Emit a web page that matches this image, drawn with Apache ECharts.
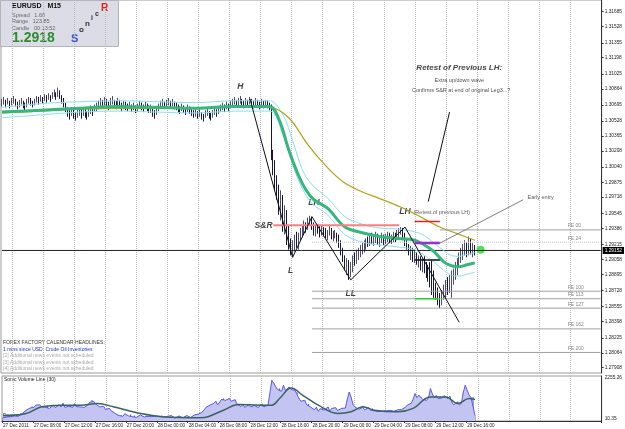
<!DOCTYPE html>
<html>
<head>
<meta charset="utf-8">
<title>EURUSD M15</title>
<script src="https://cdn.jsdelivr.net/npm/echarts@6/dist/echarts.min.js"></script>
<style>
  html, body { margin: 0; padding: 0; background: #fff; }
  #chart { width: 625px; height: 429px; }
</style>
</head>
<body>
<div id="chart"></div>
<script>
// EURUSD M15, bars from 27 Dec 2011 04:00, one bar every 15 minutes
const highs = [
  1.3076,1.3078,1.3075,1.3077,1.3074,1.3077,1.3079,1.3076,1.3073,1.3075,1.3077,1.3074,1.3072,1.3076,1.3078,1.3077,1.3074,
  1.3076,1.3079,1.3078,1.3080,1.3078,1.3081,1.3080,1.3082,1.3080,1.3083,1.3086,1.3083,
  1.3088,1.3085,1.3080,1.3077,
  1.3072,1.3067,1.3064,1.3067,1.3065,1.3062,1.3065,1.3067,
  1.3065,1.3067,1.3065,1.3063,1.3066,1.3069,1.3067,1.3070,1.3072,
  1.3074,1.3077,1.3075,1.3078,1.3076,1.3073,1.3077,1.3079,1.3075,1.3074,1.3077,1.3075,1.3072,1.3074,1.3073,
  1.3071,1.3073,1.3070,1.3072,1.3069,1.3071,1.3074,1.3072,1.3070,1.3073,1.3071,1.3069,1.3070,1.3067,1.3064,1.3068,
  1.3071,1.3074,1.3076,1.3073,1.3075,1.3077,1.3074,1.3076,1.3073,1.3072,
  1.3070,1.3068,1.3071,1.3069,1.3067,1.3070,1.3068,1.3066,1.3064,1.3065,
  1.3063,1.3065,1.3062,1.3060,1.3064,1.3066,1.3063,1.3061,1.3064,1.3067,1.3065,1.3068,1.3070,
  1.3072,1.3070,1.3073,1.3071,1.3074,
  1.3076,1.3078,1.3075,1.3077,1.3079,1.3076,1.3074,1.3077,1.3075,1.3078,1.3076,1.3074,1.3077,1.3075,1.3073,1.3076,1.3074,1.3075,
  1.3074,1.3072,
  1.3070,1.3022,1.3011,1.2995,1.2985,1.2979,1.2974,1.2963,1.2958,1.2942,
  1.2928,1.2926,1.2932,1.2935,1.2934,1.2939,1.2942,1.2947,1.2945,1.2950,
  1.2952,1.2951,1.2945,1.2942,1.2943,1.2941,1.2942,1.2940,1.2939,1.2937,
  1.2941,1.2939,1.2936,1.2937,1.2934,1.2932,1.2926,1.2918,1.2910,1.2907,
  1.2905,1.2903,1.2910,1.2913,1.2916,1.2918,1.2921,1.2923,1.2926,1.2928,
  1.2930,1.2933,1.2934,1.2932,1.2935,1.2933,1.2930,1.2934,1.2932,1.2933,
  1.2935,1.2934,1.2932,1.2935,1.2934,1.2937,1.2939,1.2940,1.2939,1.2934,
  1.2928,1.2922,1.2920,1.2918,1.2916,1.2913,1.2910,1.2909,1.2907,1.2909,
  1.2903,1.2900,1.2903,1.2905,1.2894,1.2881,1.2876,1.2870,1.2873,1.2879,
  1.2884,1.2887,1.2889,1.2894,1.2896,1.2903,1.2907,1.2913,1.2918,1.2922,
  1.2926,1.2924,1.2930,1.2928,1.2923,1.2921
];
const lows = [
  1.3068,1.3070,1.3067,1.3070,1.3066,1.3069,1.3071,1.3068,1.3065,1.3067,1.3070,1.3066,1.3064,1.3067,1.3071,1.3069,1.3067,
  1.3069,1.3072,1.3070,1.3073,1.3071,1.3074,1.3072,1.3075,1.3073,1.3076,1.3078,1.3075,
  1.3078,1.3076,1.3071,1.3067,
  1.3062,1.3057,1.3054,1.3058,1.3055,1.3053,1.3056,1.3058,
  1.3055,1.3058,1.3056,1.3054,1.3057,1.3060,1.3058,1.3062,1.3063,
  1.3065,1.3068,1.3066,1.3069,1.3067,1.3064,1.3068,1.3070,1.3066,1.3065,1.3068,1.3066,1.3063,1.3065,1.3064,
  1.3063,1.3065,1.3062,1.3064,1.3061,1.3063,1.3066,1.3064,1.3062,1.3065,1.3063,1.3061,1.3061,1.3057,1.3055,1.3059,
  1.3063,1.3066,1.3068,1.3065,1.3067,1.3069,1.3066,1.3068,1.3065,1.3064,
  1.3062,1.3060,1.3063,1.3061,1.3059,1.3062,1.3060,1.3058,1.3056,1.3057,
  1.3055,1.3057,1.3054,1.3052,1.3056,1.3058,1.3055,1.3053,1.3056,1.3059,1.3057,1.3060,1.3062,
  1.3064,1.3062,1.3065,1.3063,1.3066,
  1.3068,1.3070,1.3067,1.3069,1.3071,1.3068,1.3066,1.3069,1.3067,1.3070,1.3068,1.3066,1.3069,1.3067,1.3065,1.3068,1.3066,1.3067,
  1.3066,1.3064,
  1.3011,1.2995,1.2979,1.2969,1.2953,1.2947,1.2935,1.2932,1.2921,1.2916,
  1.2910,1.2908,1.2914,1.2918,1.2916,1.2926,1.2929,1.2932,1.2934,1.2937,
  1.2941,1.2937,1.2931,1.2930,1.2933,1.2929,1.2931,1.2930,1.2928,1.2926,
  1.2931,1.2927,1.2925,1.2928,1.2923,1.2918,1.2910,1.2903,1.2894,1.2889,
  1.2884,1.2887,1.2892,1.2899,1.2901,1.2905,1.2908,1.2911,1.2913,1.2916,
  1.2919,1.2920,1.2922,1.2920,1.2923,1.2921,1.2919,1.2923,1.2921,1.2922,
  1.2924,1.2923,1.2922,1.2924,1.2924,1.2926,1.2928,1.2932,1.2926,1.2920,
  1.2916,1.2910,1.2905,1.2903,1.2902,1.2900,1.2897,1.2894,1.2892,1.2891,
  1.2886,1.2882,1.2876,1.2868,1.2865,1.2863,1.2857,1.2854,1.2857,1.2863,
  1.2865,1.2868,1.2870,1.2865,1.2879,1.2884,1.2889,1.2897,1.2902,1.2905,
  1.2910,1.2908,1.2910,1.2911,1.2908,1.2910
];
const closes = [
  1.3072,1.3075,1.3071,1.3074,1.3070,1.3073,1.3076,1.3072,1.3069,1.3071,1.3074,1.3070,1.3068,1.3072,1.3075,1.3073,1.3071,
  1.3073,1.3076,1.3074,1.3077,1.3075,1.3078,1.3076,1.3079,1.3077,1.3080,1.3082,1.3079,
  1.3084,1.3080,1.3076,1.3072,
  1.3066,1.3062,1.3059,1.3063,1.3060,1.3057,1.3061,1.3063,
  1.3060,1.3063,1.3061,1.3058,1.3062,1.3065,1.3063,1.3066,1.3068,
  1.3070,1.3073,1.3071,1.3074,1.3072,1.3069,1.3073,1.3075,1.3071,1.3070,1.3073,1.3071,1.3068,1.3070,1.3069,
  1.3067,1.3069,1.3066,1.3068,1.3065,1.3067,1.3070,1.3068,1.3066,1.3069,1.3067,1.3065,1.3066,1.3062,1.3060,1.3064,
  1.3067,1.3070,1.3072,1.3069,1.3071,1.3073,1.3070,1.3072,1.3069,1.3068,
  1.3066,1.3064,1.3067,1.3065,1.3063,1.3066,1.3064,1.3062,1.3060,1.3061,
  1.3059,1.3061,1.3058,1.3056,1.3060,1.3062,1.3059,1.3057,1.3060,1.3063,1.3061,1.3064,1.3066,
  1.3068,1.3066,1.3069,1.3067,1.3070,
  1.3072,1.3074,1.3071,1.3073,1.3075,1.3072,1.3070,1.3073,1.3071,1.3074,1.3072,1.3070,1.3073,1.3071,1.3069,1.3072,1.3070,1.3071,
  1.3070,1.3068,
  1.3016,1.3001,1.2985,1.2979,1.2963,1.2969,1.2939,1.2953,1.2926,1.2918,
  1.2914,1.2921,1.2926,1.2921,1.2931,1.2935,1.2937,1.2942,1.2939,1.2945,
  1.2947,1.2940,1.2935,1.2939,1.2936,1.2934,1.2938,1.2935,1.2932,1.2934,
  1.2937,1.2932,1.2934,1.2935,1.2926,1.2922,1.2914,1.2907,1.2900,1.2903,
  1.2892,1.2897,1.2905,1.2903,1.2910,1.2913,1.2916,1.2919,1.2921,1.2924,
  1.2922,1.2928,1.2926,1.2928,1.2931,1.2925,1.2927,1.2930,1.2924,1.2928,
  1.2931,1.2927,1.2930,1.2932,1.2928,1.2934,1.2937,1.2938,1.2931,1.2924,
  1.2919,1.2913,1.2916,1.2907,1.2912,1.2903,1.2903,1.2899,1.2903,1.2897,
  1.2890,1.2886,1.2880,1.2873,1.2869,1.2867,1.2863,1.2860,1.2869,1.2873,
  1.2881,1.2873,1.2884,1.2887,1.2891,1.2897,1.2903,1.2909,1.2913,1.2918,
  1.2921,1.2913,1.2923,1.2916,1.2919,1.2915
];
const volumes = [
  180,260,220,300,240,200,280,320,260,350,420,500,600,
  650,720,800,760,880,820,900,780,
  820,760,850,700,800,880,740,820,900,780,980,760,700,820,860,760,960,800,720,780,680,760,820,
  900,1050,1160,1080,940,
  860,780,700,820,640,600,700,560,520,
  420,380,300,340,260,400,320,280,360,240,300,200,260,340,280,220,300,260,180,240,
  320,280,200,260,300,220,180,260,240,300,200,160,240,280,220,180,260,300,240,200,280,340,300,380,420,
  500,620,760,700,880,820,980,1100,900,1000,1200,1250,
  1150,1060,1250,1100,1000,1180,
  950,880,800,920,760,840,900,780,700,860,820,740,900,960,800,760,880,940,
  2255,2100,1900,1750,1800,1650,1980,1700,
  1620,1890,1750,1650,1700,1600,
  1250,1100,1000,1150,900,950,
  780,700,620,760,540,680,720,600,650,780,560,700,620,740,580,660,700,600,720,
  1200,1610,1300,900,
  780,720,650,700,760,620,680,740,600,700,
  560,600,520,580,540,600,560,520,580,600,540,560,620,580,640,
  700,760,880,820,980,1200,
  1520,1300,1430,1350,1200,1260,1150,1300,1800,1500,
  1300,1420,1250,1350,1280,1400,1300,1250,1380,
  1050,900,980,1060,880,1000,
  1600,1980,1700,1430,1300,1340,300
];
const volumeLine = [[0,300],[12,420],[20,790],[30,880],[41,880],[49,970],[57,790],[71,420],[82,240],[102,180],
  [106,240],[114,600],[122,920],[133,880],[139,880],[143,1250],[149,1830],[155,1430],[163,880],[173,420],
  [180,510],[186,790],[192,600],[204,510],[212,700],[221,1340],[229,1340],[235,970],[241,1250],[244,1200]];

// indicator lines as [bar, price]
const slowMa = [[0,1.3061],[20,1.3063],[40,1.3065],[60,1.3066],[80,1.3066],[100,1.3066],[120,1.3067],[138,1.3067],
  [148,1.3056],[158,1.3027],[168,1.3003],[176,1.2988],[184,1.2979],[194,1.2971],[206,1.2961],[214,1.2953],
  [226,1.2940],[235,1.2933],[244,1.2926]];
const midMa = [[0,1.3062],[20,1.3064],[40,1.3066],[60,1.3068],[80,1.3067],[100,1.3066],[120,1.3068],[138,1.3068],
  [143,1.3054],[148,1.3022],[153,1.2995],[157,1.2979],[161,1.2969],[168,1.2960],[177,1.2940],[186,1.2934],
  [195,1.2930],[204,1.2928],[213,1.2926],[218,1.2921],[223,1.2914],[228,1.2903],[232,1.2899],[236,1.2898],
  [240,1.2900],[244,1.2902]];
const upperBand = [[0,1.3067],[20,1.3071],[40,1.3073],[60,1.3074],[80,1.3073],[100,1.3072],[120,1.3074],[138,1.3074],
  [145,1.3059],[150,1.3032],[155,1.3001],[160,1.2985],[168,1.2971],[177,1.2951],[186,1.2943],[195,1.2939],
  [204,1.2938],[213,1.2935],[218,1.2931],[223,1.2923],[228,1.2915],[232,1.2910],[236,1.2909],[240,1.2911],[244,1.2913]];
const lowerBand = [[0,1.3056],[20,1.3059],[40,1.3062],[60,1.3063],[80,1.3062],[100,1.3061],[120,1.3063],[138,1.3063],
  [145,1.3038],[150,1.3006],[155,1.2981],[160,1.2965],[168,1.2953],[177,1.2932],[186,1.2924],[195,1.2921],
  [204,1.2919],[213,1.2916],[218,1.2910],[223,1.2903],[228,1.2894],[232,1.2889],[236,1.2888],[240,1.2890],[244,1.2892]];

// drawing objects
const zigzag = [[128,1.3076],[150,1.2908],[160,1.2951],[180,1.2884],[208,1.2940],[236,1.2839]];
const srLine = [[140,1.2942],[205,1.2942]];
const redLevel = [[213,1.2946],[219,1.2946],[226,1.2946]];
const purpleLevel = [[213,1.2923],[226,1.2923]];
const blackLevel = [[213,1.2905],[219,1.2905],[226,1.2905]];
const greenLevel = [[213,1.2864],[219,1.2864],[226,1.2864]];
const retestPointer = [[231,1.3062],[220,1.2967]];
const entryPointer = [[269,1.2969],[226,1.2923]];
const entryDot = [[247,1.2916]];
const feNames = ['FE 00','FE 24','FE 100','FE 113','FE 127','FE 162','FE 200'];
const feLevels = [1.2937,1.2924,1.2872,1.2864,1.2854,1.2832,1.2807];
const feStarts = [226,160,160,160,160,160,160];
const lastPrice = 1.29152;

const priceTicks = [1.31685,1.31528,1.31355,1.31198,1.31025,1.30864,1.30695,1.30528,1.30365,1.30208,1.30040,
  1.29875,1.29718,1.29545,1.29386,1.29215,1.29058,1.28895,1.28728,1.28555,1.28398,1.28225,1.28064,1.27908];
const volumeTicks = [2255.26, 10.35];
const timeLabels = ['27 Dec 2011','27 Dec 08:00','27 Dec 12:00','27 Dec 16:00','27 Dec 20:00','28 Dec 00:00',
  '28 Dec 04:00','28 Dec 08:00','28 Dec 12:00','28 Dec 16:00','28 Dec 20:00','29 Dec 00:00','29 Dec 04:00',
  '29 Dec 08:00','29 Dec 12:00','29 Dec 16:00'];
const newsLines = ['FOREX FACTORY CALENDAR HEADLINES:','1 mins since USD: Crude Oil Inventories',
  '[2] Additional news events not scheduled','[3] Additional news events not scheduled',
  '[4] Additional news events not scheduled'];

const slotCount = 310; // chart is shifted, empty space right of the last bar
const barTimes = [];
const t0 = Date.UTC(2011, 11, 27, 4, 0);
for (let i = 0; i < slotCount; i++) {
  const d = new Date(t0 + i * 15 * 60000);
  barTimes.push(d.toISOString().slice(5, 16));
}

const FONT = 'Liberation Sans';
const candles = closes.map((c, i) => [i === 0 ? c : closes[i - 1], c, lows[i], highs[i]]);

const chart = echarts.init(document.getElementById('chart'));

function lineSeries(data, color, width, extra) {
  return Object.assign({
    type: 'line', xAxisIndex: 0, yAxisIndex: 0, data: data,
    showSymbol: false, symbol: 'none', silent: true,
    lineStyle: { color: color, width: width }, itemStyle: { color: color }
  }, extra || {});
}
function squareLine(data, color) {
  return lineSeries(data, color, 1.5, {
    symbol: 'rect', showSymbol: true, symbolSize: 4,
    itemStyle: { color: '#fff', borderColor: color, borderWidth: 1 }
  });
}
function textAt(pos, text, size, weight, style, color) {
  return {
    value: pos,
    label: { show: true, position: 'inside', formatter: text, fontFamily: FONT,
      fontSize: size, fontWeight: weight, fontStyle: style, color: color }
  };
}

const annotations = [
  textAt([123, 1.3089], 'H', 8.5, 'bold', 'italic', '#111'),
  textAt([161, 1.2966], 'LH', 8.5, 'bold', 'italic', '#111'),
  textAt([135, 1.2941], 'S&R', 8.5, 'bold', 'italic', '#111'),
  textAt([149, 1.2894], 'L', 8.5, 'bold', 'italic', '#111'),
  textAt([180, 1.2869], 'LL', 8.5, 'bold', 'italic', '#111'),
  textAt([208, 1.2956], 'LH', 8.5, 'bold', 'italic', '#111'),
  textAt([227, 1.2955], '(Retest of previous LH)', 5.5, 'normal', 'normal', '#333'),
  textAt([236, 1.3109], 'Retest of Previous LH:', 8, 'bold', 'italic', '#111'),
  textAt([236, 1.3096], 'Extra up/down wave', 5.5, 'normal', 'normal', '#222'),
  textAt([237, 1.3085], 'Confirms S&R at end of original Leg3...?', 5.5, 'normal', 'normal', '#222'),
  textAt([278, 1.2971], 'Early entry', 5.5, 'normal', 'normal', '#333')
];

const feSeries = feLevels.map((lvl, k) => lineSeries([[feStarts[k], lvl], [slotCount - 1, lvl]],
  k === 1 ? '#c8c8c8' : '#a0a0a0', 1, { lineStyle: { color: k === 1 ? '#c8c8c8' : '#a0a0a0', width: 1, type: k === 1 ? 'dotted' : 'solid' } }));

const gridSplit = (idx) => idx % 16 === 6;
const dotted = { show: true, interval: gridSplit, lineStyle: { color: '#b8b8b8', type: 'dotted', width: 1 } };

const option = {
  animation: false,
  backgroundColor: '#fff',
  grid: [
    { left: 1, top: 0, width: 605, height: 373, show: true, borderColor: '#9a9a9a', borderWidth: 1 },
    { left: 1, top: 376, width: 605, height: 45, show: true, borderColor: '#9a9a9a', borderWidth: 1 }
  ],
  xAxis: [
    { type: 'category', gridIndex: 0, data: barTimes, boundaryGap: true,
      axisLine: { show: false }, axisTick: { show: false }, axisLabel: { show: false }, splitLine: dotted },
    { type: 'category', gridIndex: 1, data: barTimes, boundaryGap: true,
      axisLine: { show: true, lineStyle: { color: '#333' } },
      axisTick: { show: true, length: 2, interval: (idx) => idx % 16 === 0 && idx / 16 < timeLabels.length, lineStyle: { color: '#333' } },
      axisLabel: { show: true, interval: (idx) => idx % 16 === 0 && idx / 16 < timeLabels.length,
        formatter: (v, idx) => timeLabels[idx / 16] || '', align: 'left', margin: 2,
        fontSize: 4.6, fontFamily: FONT, color: '#222' },
      splitLine: dotted }
  ],
  yAxis: [
    { type: 'value', gridIndex: 0, position: 'right', min: 1.27852, max: 1.31809, scale: true,
      axisLine: { show: true, lineStyle: { color: '#333' } },
      axisTick: { show: true, length: 2, customValues: priceTicks, lineStyle: { color: '#333' } },
      axisLabel: { show: true, customValues: priceTicks, formatter: (v) => v.toFixed(5), margin: 3,
        fontSize: 4.8, fontFamily: FONT, color: '#222' },
      splitLine: { show: false } },
    { type: 'value', gridIndex: 1, position: 'right', min: 0, max: 2500,
      axisLine: { show: true, lineStyle: { color: '#333' } },
      axisTick: { show: false },
      axisLabel: { show: true, customValues: volumeTicks, formatter: (v) => v.toFixed(2), margin: 3,
        verticalAlign: 'bottom', fontSize: 4.8, fontFamily: FONT, color: '#222' },
      splitLine: { show: false } }
  ],
  series: [
    { type: 'candlestick', name: 'EURUSD', xAxisIndex: 0, yAxisIndex: 0, data: candles, barWidth: 1.2, silent: true,
      itemStyle: { color: '#4e4e72', color0: '#16163a', borderColor: '#4e4e72', borderColor0: '#16163a', borderWidth: 1 } },
    // bid line with its price box on the axis
    lineSeries([[0, lastPrice], [slotCount - 1, lastPrice]], '#222', 1, {
      endLabel: { show: true, formatter: lastPrice.toFixed(5), backgroundColor: '#000', color: '#fff',
        fontSize: 4.8, fontFamily: FONT, padding: [1, 2], distance: 2 } }),
    lineSeries(upperBand, '#8edcf2', 1, { smooth: 0.35 }),
    lineSeries(lowerBand, '#8edcf2', 1, { smooth: 0.35 }),
    lineSeries(slowMa, '#b2a21e', 1.2, { smooth: 0.35 }),
    lineSeries(midMa, '#34b77c', 3, { smooth: 0.35 }),
    lineSeries(srLine, '#ff8080', 2)
  ].concat(feSeries).concat([
    lineSeries(zigzag, '#111', 1, { symbol: 'rect', showSymbol: true, symbolSize: 3,
      itemStyle: { color: '#fff', borderColor: '#111', borderWidth: 1 } }),
    lineSeries(purpleLevel, '#9a2fd0', 2.5),
    squareLine(redLevel, '#ee2020'),
    squareLine(blackLevel, '#111'),
    squareLine(greenLevel, '#33cc33'),
    lineSeries(retestPointer, '#111', 1),
    lineSeries(entryPointer, '#808080', 1),
    { type: 'scatter', xAxisIndex: 0, yAxisIndex: 0, data: entryDot, symbolSize: 8, silent: true,
      itemStyle: { color: '#22dd22' } },
    { type: 'scatter', xAxisIndex: 0, yAxisIndex: 0, data: annotations, symbolSize: 1, silent: true,
      itemStyle: { color: 'transparent' } },
    { type: 'scatter', xAxisIndex: 0, yAxisIndex: 0, symbolSize: 1, silent: true, itemStyle: { color: 'transparent' },
      data: feLevels.map((lvl, k) => ({ value: [292, lvl], label: { show: true, formatter: feNames[k], position: 'top',
        align: 'left', distance: 1, fontSize: 5, fontFamily: FONT, color: '#666' } })) },
    // Sonic volume subwindow
    { type: 'line', xAxisIndex: 1, yAxisIndex: 1, data: volumes, showSymbol: false, symbol: 'none', silent: true,
      lineStyle: { color: '#5a5af0', width: 1 }, areaStyle: { color: '#c4c4f2', opacity: 1 } },
    { type: 'bar', xAxisIndex: 1, yAxisIndex: 1, data: volumes, barWidth: 1, silent: true,
      itemStyle: { color: '#4a4aee' } },
    { type: 'line', xAxisIndex: 1, yAxisIndex: 1, data: volumeLine, showSymbol: false, symbol: 'none', silent: true,
      smooth: 0.4, lineStyle: { color: '#3a6262', width: 1.5 } }
  ]),
  graphic: [
    { type: 'rect', left: 0, top: 0, shape: { width: 118, height: 46 }, silent: true,
      style: { fill: '#dcdce6', stroke: '#b4b4bc', lineWidth: 1 } },
    { type: 'text', left: 12, top: 3, silent: true,
      style: { text: 'EURUSD   M15', fontSize: 7, fontWeight: 'bold', fontFamily: FONT, fill: '#111' } },
    { type: 'text', left: 12, top: 12, silent: true,
      style: { text: 'Spread   1.60', fontSize: 5.5, fontFamily: FONT, fill: '#666' } },
    { type: 'text', left: 12, top: 18.5, silent: true,
      style: { text: 'Range   123.85', fontSize: 5.5, fontFamily: FONT, fill: '#666' } },
    { type: 'text', left: 12, top: 25.5, silent: true,
      style: { text: 'Candle   00:13:52', fontSize: 5.5, fontFamily: FONT, fill: '#666' } },
    { type: 'text', left: 12, top: 31, silent: true,
      style: { text: '1.2918', fontSize: 14, fontWeight: 'bold', fontFamily: FONT, fill: '#2e8b2e' } },
    { type: 'text', left: 71, top: 33, silent: true,
      style: { text: 'S', fontSize: 11, fontWeight: 'bold', fontFamily: FONT, fill: '#3a56c8' } },
    { type: 'text', left: 79, top: 26, silent: true,
      style: { text: 'o', fontSize: 8, fontWeight: 'bold', fontFamily: FONT, fill: '#333' } },
    { type: 'text', left: 85, top: 20, silent: true,
      style: { text: 'n', fontSize: 8, fontWeight: 'bold', fontFamily: FONT, fill: '#333' } },
    { type: 'text', left: 91, top: 15, silent: true,
      style: { text: 'i', fontSize: 7, fontWeight: 'bold', fontFamily: FONT, fill: '#333' } },
    { type: 'text', left: 95, top: 11, silent: true,
      style: { text: 'c', fontSize: 7, fontWeight: 'bold', fontFamily: FONT, fill: '#333' } },
    { type: 'text', left: 101, top: 3, silent: true,
      style: { text: 'R', fontSize: 10, fontWeight: 'bold', fontFamily: FONT, fill: '#e02020' } }
  ].concat(newsLines.map((t, k) => ({
    type: 'text', left: 3, top: 340.5 + k * 6.5, silent: true,
    style: { text: t, fontSize: 5, fontFamily: FONT,
      fill: k === 0 ? '#333' : (k === 1 ? '#2233bb' : '#aaaaaa') }
  }))).concat([
    { type: 'text', left: 4, top: 377.5, silent: true,
      style: { text: 'Sonic Volume Line (30)', fontSize: 5, fontFamily: FONT, fill: '#222' } },
    { type: 'text', left: 3, top: 413, silent: true,
      style: { text: 'Powered by \u00a9 2001-2010 MetaQuotes Software Corp.', fontSize: 4.5, fontFamily: FONT,
        fill: '#223', backgroundColor: 'rgba(255,255,255,0.7)' } }
  ])
};

chart.setOption(option);
</script>
</body>
</html>
